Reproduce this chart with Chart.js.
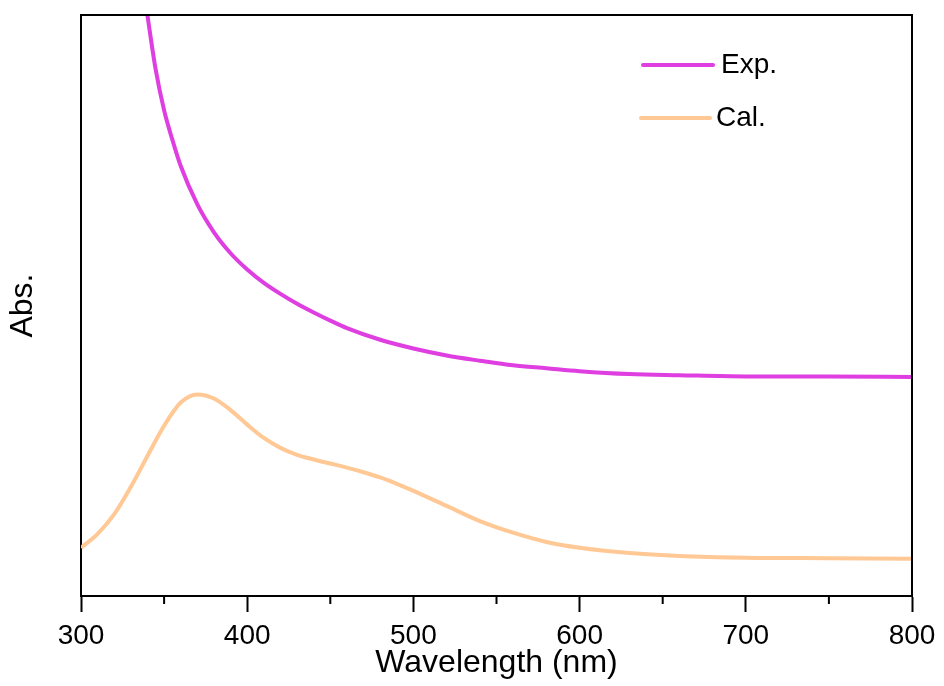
<!DOCTYPE html>
<html>
<head>
<meta charset="utf-8">
<script src="https://cdn.jsdelivr.net/npm/chart.js@4.4.1/dist/chart.umd.min.js"></script>
<style>
  html, body { margin: 0; padding: 0; background: #fff; }
  #wrap { width: 944px; height: 686px; }
</style>
</head>
<body>
<div id="wrap"><canvas id="absChart" width="944" height="686"></canvas></div>
<script>
// Spectra (arbitrary absorbance units, 0-100)
const expWl  = [336, 340, 345, 350, 355, 360, 370, 380, 390, 400, 410, 420, 430, 440, 450, 460, 480, 500, 520, 540, 560, 580, 600, 630, 660, 700, 750, 800];
const expAbs = [108, 99.9, 90.5, 83.6, 78.5, 74.0, 67.4, 62.6, 59.0, 56.2, 53.9, 52.0, 50.3, 48.8, 47.4, 46.1, 44.1, 42.6, 41.4, 40.5, 39.7, 39.2, 38.7, 38.2, 38.0, 37.8, 37.8, 37.7];

const calWl  = [300, 310, 320, 330, 340, 350, 360, 370, 380, 390, 400, 410, 420, 430, 440, 450, 460, 470, 480, 490, 500, 520, 540, 560, 580, 600, 630, 660, 700, 750, 800];
const calAbs = [8.3, 10.7, 14.1, 18.8, 24.1, 29.3, 33.3, 34.7, 34.0, 32.0, 29.5, 27.2, 25.5, 24.3, 23.5, 22.8, 22.1, 21.3, 20.4, 19.3, 18.1, 15.5, 12.9, 10.9, 9.3, 8.3, 7.4, 6.9, 6.6, 6.5, 6.4];

const minorTicks = [350, 450, 550, 650, 750];

const fontFamily = 'Arial, "Liberation Sans", Helvetica, sans-serif';

function toPoints(xs, ys) {
  return xs.map((x, i) => ({ x: x, y: ys[i] }));
}

// frame, minor ticks and in-plot legend
const framePlugin = {
  id: 'frame',
  afterDraw(chart) {
    const ctx = chart.ctx;
    const area = chart.chartArea;
    const xScale = chart.scales.x;
    ctx.save();
    ctx.strokeStyle = '#000';
    ctx.lineWidth = 2;
    ctx.beginPath();
    ctx.moveTo(area.left, area.top);
    ctx.lineTo(area.right, area.top);
    ctx.lineTo(area.right, area.bottom);
    ctx.stroke();

    minorTicks.forEach(v => {
      const px = xScale.getPixelForValue(v);
      ctx.beginPath();
      ctx.moveTo(px, area.bottom);
      ctx.lineTo(px, area.bottom + 8);
      ctx.stroke();
    });

    // legend
    const rows = [
      { x0: 643, x1: 713, y: 65, tx: 721 },
      { x0: 641, x1: 710, y: 118, tx: 716 }
    ];
    ctx.font = '28px ' + fontFamily;
    ctx.textBaseline = 'middle';
    ctx.fillStyle = '#000';
    chart.data.datasets.forEach((ds, i) => {
      const r = rows[i];
      ctx.strokeStyle = ds.borderColor;
      ctx.lineWidth = 4;
      ctx.lineCap = 'round';
      ctx.beginPath();
      ctx.moveTo(r.x0, r.y);
      ctx.lineTo(r.x1, r.y);
      ctx.stroke();
      ctx.fillText(ds.label, r.tx, r.y);
    });
    ctx.restore();
  }
};

new Chart(document.getElementById('absChart'), {
  type: 'line',
  data: {
    datasets: [{
      label: 'Exp.',
      data: toPoints(expWl, expAbs),
      borderColor: '#df3ee0',
      borderWidth: 4,
      pointRadius: 0,
      cubicInterpolationMode: 'monotone',
      fill: false
    }, {
      label: 'Cal.',
      data: toPoints(calWl, calAbs),
      borderColor: '#ffc894',
      borderWidth: 4,
      pointRadius: 0,
      cubicInterpolationMode: 'monotone',
      fill: false
    }]
  },
  options: {
    responsive: false,
    animation: false,
    events: [],
    layout: { padding: { top: 15, right: 32, left: 0, bottom: 0 } },
    plugins: {
      legend: { display: false },
      tooltip: { enabled: false }
    },
    scales: {
      x: {
        type: 'linear',
        min: 300,
        max: 800,
        border: { display: true, color: '#000', width: 2 },
        grid: {
          display: true,
          drawOnChartArea: false,
          drawTicks: true,
          tickLength: 16,
          tickWidth: 2,
          tickColor: '#000'
        },
        ticks: {
          stepSize: 100,
          color: '#000',
          padding: 7,
          maxRotation: 0,
          font: { size: 28, family: fontFamily }
        },
        title: {
          display: true,
          text: 'Wavelength (nm)',
          color: '#000',
          padding: { top: 0, bottom: 4 },
          font: { size: 32, family: fontFamily }
        },
        afterFit(scale) { scale.height = 90; }
      },
      y: {
        min: 0,
        max: 100,
        border: { display: true, color: '#000', width: 2 },
        grid: { display: false },
        ticks: { display: false },
        title: {
          display: true,
          text: 'Abs.',
          color: '#000',
          padding: { top: 4, bottom: 4 },
          font: { size: 32, family: fontFamily }
        },
        afterFit(scale) { scale.width = 81; }
      }
    }
  },
  plugins: [framePlugin]
});
</script>
</body>
</html>
